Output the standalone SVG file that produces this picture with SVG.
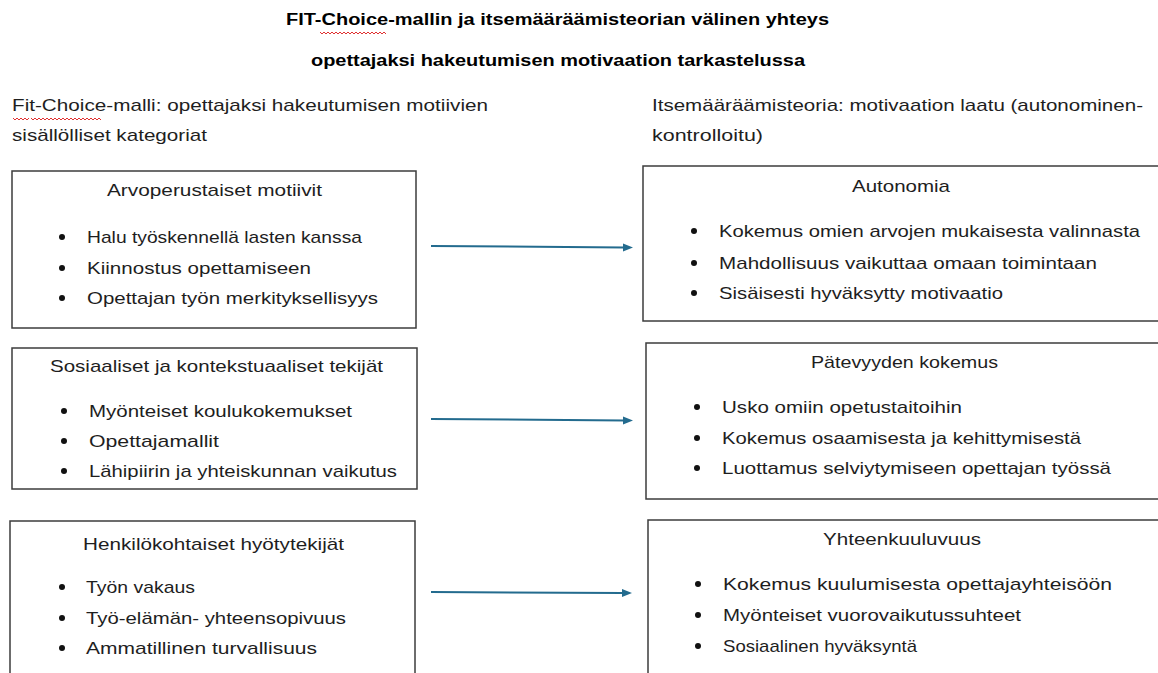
<svg xmlns="http://www.w3.org/2000/svg" width="1158" height="673" viewBox="0 0 1158 673">
<style>
text{font-family:"Liberation Sans",Arial,sans-serif;fill:#1e1e1e}
.t{font-size:16px;font-weight:bold;fill:#000}
.h{font-size:17px}
.n{font-size:17px}
.bx{fill:#fff;stroke:#3c3c3c;stroke-width:1.5}
.sq{fill:none;stroke:#e03030;stroke-width:1}
.ar{stroke:#236b8e;stroke-width:2;fill:none}
</style>
<defs>
<marker id="ah" markerUnits="userSpaceOnUse" markerWidth="11" markerHeight="9" refX="1" refY="4" orient="auto">
<path d="M0,0 L10,4 L0,8 z" fill="#236b8e"/>
</marker>
<circle id="b" r="3" fill="#111"/>
</defs>
<rect width="1158" height="673" fill="#fff"/>

<g id="title">
<text class="t" x="286" y="25" textLength="543" lengthAdjust="spacingAndGlyphs">FIT-Choice-mallin ja itsemääräämisteorian välinen yhteys</text>
<text class="t" x="311" y="66" textLength="494" lengthAdjust="spacingAndGlyphs">opettajaksi hakeutumisen motivaation tarkastelussa</text>
<path class="sq" d="M320,32 l2,2 l2,-2 l2,2 l2,-2 l2,2 l2,-2 l2,2 l2,-2 l2,2 l2,-2 l2,2 l2,-2 l2,2 l2,-2 l2,2 l2,-2 l2,2 l2,-2 l2,2 l2,-2 l2,2 l2,-2 l2,2 l2,-2 l2,2 l2,-2 l2,2 l2,-2 l2,2 l2,-2 l2,2 l2,-2 l2,2"/>
</g>

<g id="header-left">
<text class="h" x="12" y="111" textLength="476" lengthAdjust="spacingAndGlyphs">Fit-Choice-malli: opettajaksi hakeutumisen motiivien</text>
<text class="h" x="12" y="141" textLength="195" lengthAdjust="spacingAndGlyphs">sisällölliset kategoriat</text>
<path class="sq" d="M13,118 l2,2 l2,-2 l2,2 l2,-2 l2,2 l2,-2 l2,2 l2,-2 M31,118 l2,2 l2,-2 l2,2 l2,-2 l2,2 l2,-2 l2,2 l2,-2 l2,2 l2,-2 l2,2 l2,-2 l2,2 l2,-2 l2,2 l2,-2 l2,2 l2,-2 l2,2 l2,-2 l2,2 l2,-2 l2,2 l2,-2 l2,2 l2,-2 l2,2 l2,-2 l2,2 l2,-2 l2,2 l2,-2 l2,2 l2,-2 l2,2"/>
</g>

<g id="header-right">
<text class="h" x="652" y="111" textLength="491" lengthAdjust="spacingAndGlyphs">Itsemääräämisteoria: motivaation laatu (autonominen-</text>
<text class="h" x="652" y="141" textLength="111" lengthAdjust="spacingAndGlyphs">kontrolloitu)</text>
</g>

<g id="arvoperustaiset">
<rect class="bx" x="12" y="171" width="404" height="157"/>
<text class="n" x="107" y="196" textLength="215" lengthAdjust="spacingAndGlyphs">Arvoperustaiset motiivit</text>
<use href="#b" x="62" y="237"/><text class="n" x="87" y="243" textLength="275" lengthAdjust="spacingAndGlyphs">Halu työskennellä lasten kanssa</text>
<use href="#b" x="62" y="268"/><text class="n" x="87" y="274" textLength="224" lengthAdjust="spacingAndGlyphs">Kiinnostus opettamiseen</text>
<use href="#b" x="62" y="298"/><text class="n" x="87" y="304" textLength="291" lengthAdjust="spacingAndGlyphs">Opettajan työn merkityksellisyys</text>
</g>

<g id="sosiaaliset">
<rect class="bx" x="12" y="348" width="405" height="141"/>
<text class="n" x="50" y="372" textLength="333" lengthAdjust="spacingAndGlyphs">Sosiaaliset ja kontekstuaaliset tekijät</text>
<use href="#b" x="64" y="411"/><text class="n" x="89" y="417" textLength="263" lengthAdjust="spacingAndGlyphs">Myönteiset koulukokemukset</text>
<use href="#b" x="64" y="441"/><text class="n" x="89" y="447" textLength="130" lengthAdjust="spacingAndGlyphs">Opettajamallit</text>
<use href="#b" x="64" y="471"/><text class="n" x="89" y="477" textLength="308" lengthAdjust="spacingAndGlyphs">Lähipiirin ja yhteiskunnan vaikutus</text>
</g>

<g id="henkilokohtaiset">
<rect class="bx" x="10" y="521" width="405" height="170"/>
<text class="n" x="83" y="550" textLength="261" lengthAdjust="spacingAndGlyphs">Henkilökohtaiset hyötytekijät</text>
<use href="#b" x="62" y="587"/><text class="n" x="86" y="593" textLength="109" lengthAdjust="spacingAndGlyphs">Työn vakaus</text>
<use href="#b" x="62" y="618"/><text class="n" x="86" y="624" textLength="260" lengthAdjust="spacingAndGlyphs">Työ-elämän- yhteensopivuus</text>
<use href="#b" x="62" y="648"/><text class="n" x="86" y="654" textLength="231" lengthAdjust="spacingAndGlyphs">Ammatillinen turvallisuus</text>
</g>

<g id="autonomia">
<rect class="bx" x="643" y="166" width="530" height="155"/>
<text class="n" x="852" y="192" textLength="98" lengthAdjust="spacingAndGlyphs">Autonomia</text>
<use href="#b" x="694" y="231"/><text class="n" x="719" y="237" textLength="421" lengthAdjust="spacingAndGlyphs">Kokemus omien arvojen mukaisesta valinnasta</text>
<use href="#b" x="694" y="263"/><text class="n" x="719" y="269" textLength="378" lengthAdjust="spacingAndGlyphs">Mahdollisuus vaikuttaa omaan toimintaan</text>
<use href="#b" x="694" y="293"/><text class="n" x="719" y="299" textLength="284" lengthAdjust="spacingAndGlyphs">Sisäisesti hyväksytty motivaatio</text>
</g>

<g id="patevyys">
<rect class="bx" x="646" y="343" width="530" height="156"/>
<text class="n" x="811" y="368" textLength="187" lengthAdjust="spacingAndGlyphs">Pätevyyden kokemus</text>
<use href="#b" x="697" y="407"/><text class="n" x="722" y="413" textLength="240" lengthAdjust="spacingAndGlyphs">Usko omiin opetustaitoihin</text>
<use href="#b" x="697" y="438"/><text class="n" x="722" y="444" textLength="359" lengthAdjust="spacingAndGlyphs">Kokemus osaamisesta ja kehittymisestä</text>
<use href="#b" x="697" y="468"/><text class="n" x="722" y="474" textLength="389" lengthAdjust="spacingAndGlyphs">Luottamus selviytymiseen opettajan työssä</text>
</g>

<g id="yhteenkuuluvuus">
<rect class="bx" x="648" y="520" width="530" height="170"/>
<text class="n" x="823" y="545" textLength="158" lengthAdjust="spacingAndGlyphs">Yhteenkuuluvuus</text>
<use href="#b" x="698" y="584"/><text class="n" x="723" y="590" textLength="389" lengthAdjust="spacingAndGlyphs">Kokemus kuulumisesta opettajayhteisöön</text>
<use href="#b" x="698" y="615"/><text class="n" x="723" y="621" textLength="298" lengthAdjust="spacingAndGlyphs">Myönteiset vuorovaikutussuhteet</text>
<use href="#b" x="698" y="646"/><text class="n" x="723" y="652" textLength="194" lengthAdjust="spacingAndGlyphs">Sosiaalinen hyväksyntä</text>
</g>

<g id="connectors">
<line class="ar" x1="431" y1="246" x2="624" y2="247.5" marker-end="url(#ah)"/>
<line class="ar" x1="431" y1="419" x2="624" y2="420.5" marker-end="url(#ah)"/>
<line class="ar" x1="431" y1="592" x2="623" y2="593" marker-end="url(#ah)"/>
</g>
</svg>
